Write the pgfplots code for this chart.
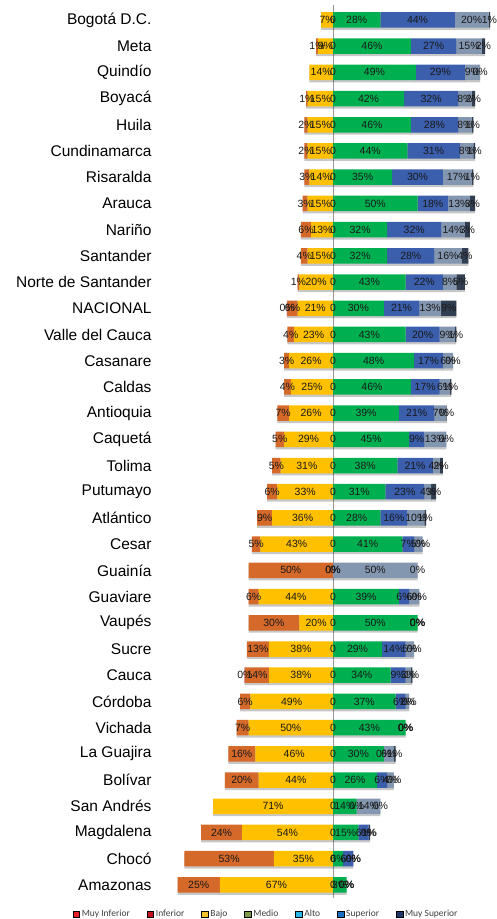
\documentclass[border=0pt]{standalone}
\usepackage{pgfplots}
\pgfplotsset{compat=1.18}
\usepackage{pgfplotstable}
\usepackage{fontspec}
\setmainfont{Liberation Sans}
\newfontfamily\carlito{Carlito}
\usetikzlibrary{shadows}

% bar colours
\definecolor{cMI}{HTML}{C00000}
\definecolor{cInf}{HTML}{D5692A}
\definecolor{cBajo}{HTML}{FFC000}
\definecolor{cMed}{HTML}{00B050}
\definecolor{cAlto}{HTML}{3B5EAD}
\definecolor{cSup}{HTML}{8497B0}
\definecolor{cMSup}{HTML}{323E52}
% legend colours
\definecolor{lMI}{HTML}{E8202A}
\definecolor{lInf}{HTML}{C0131E}
\definecolor{lBajo}{HTML}{F2C12E}
\definecolor{lMed}{HTML}{7F9A48}
\definecolor{lAlto}{HTML}{2AB6E6}
\definecolor{lSup}{HTML}{1A6FC4}
\definecolor{lMSup}{HTML}{1F3A68}

% idx, name, muy inferior, inferior, bajo, medio, alto, superior, muy superior (%)
\pgfplotstableread{
idx name minf inf bajo med alto sup msup
0  {Bogotá D.C.}        0   0  7  28 44 20 1
1  {Meta}               0   1  9  46 27 15 2
2  {Quindío}            0   0  14 49 29 9  0
3  {Boyacá}             0   1  15 42 32 8  2
4  {Huila}              0   2  15 46 28 8  1
5  {Cundinamarca}       0   2  15 44 31 8  1
6  {Risaralda}          0   3  14 35 30 17 1
7  {Arauca}             0   3  15 50 18 13 3
8  {Nariño}             0   6  13 32 32 14 3
9  {Santander}          0   4  15 32 28 16 4
10 {Norte de Santander} 0   1  20 43 22 8  5
11 {NACIONAL}           0.4 6  21 30 21 13 9
12 {Valle del Cauca}    0   4  23 43 20 9  1
13 {Casanare}           0   3  26 48 17 6  0
14 {Caldas}             0   4  25 46 17 6  1
15 {Antioquia}          0   7  26 39 21 7  0.4
16 {Caquetá}            0   5  29 45 9  13 0
17 {Tolima}             0   5  31 38 21 4  2
18 {Putumayo}           0   6  33 31 23 4  3
19 {Atlántico}          0   9  36 28 16 10 1
20 {Cesar}              0   5  43 41 7  5  0
21 {Guainía}            0   50 0  0  0  50 0
22 {Guaviare}           0   6  44 39 6  6  0
23 {Vaupés}             0   30 20 50 0  0  0
24 {Sucre}              0   13 38 29 14 5  0
25 {Cauca}              0.4 14 38 34 9  3  1
26 {Córdoba}            0   6  49 37 6  2  0
27 {Vichada}            0   7  50 43 0  0  0
28 {La Guajira}         0   16 46 30 0  6  1
29 {Bolívar}            0   20 44 26 6  4  0
30 {San Andrés}         0   0  71 14 0  14 0
31 {Magdalena}          0   24 54 15 6  0  1
32 {Chocó}              0   53 35 6  6  0  0
33 {Amazonas}           0   25 67 8  0  0  0
}\data

% where each segment's label sits (middle of the segment)
\pgfplotstablecreatecol[create col/expr={\thisrow{med}/2}]{pmed}{\data}
\pgfplotstablecreatecol[create col/expr={\thisrow{med}+\thisrow{alto}/2}]{palto}{\data}
\pgfplotstablecreatecol[create col/expr={\thisrow{med}+\thisrow{alto}+\thisrow{sup}/2}]{psup}{\data}
\pgfplotstablecreatecol[create col/expr={\thisrow{med}+\thisrow{alto}+\thisrow{sup}+\thisrow{msup}/2}]{pmsup}{\data}
\pgfplotstablecreatecol[create col/expr={-\thisrow{bajo}/2}]{pbajo}{\data}
\pgfplotstablecreatecol[create col/expr={-\thisrow{bajo}-\thisrow{inf}/2}]{pinf}{\data}
\pgfplotstablecreatecol[create col/expr={-\thisrow{bajo}-\thisrow{inf}-\thisrow{minf}/2}]{pminf}{\data}

\pgfplotsset{
  base/.style={at={(160pt,21pt)}, anchor=south west,
    scale only axis, width=337pt, height=893pt,
    xmin=-102.4, xmax=97, ymin=-0.57, ymax=33.5, y dir=reverse,
    clip=false, axis line style={draw=none}, major tick length=0pt,
    xtick=\empty, ytick=\empty},
  seg/.style={fill=#1, draw=none, forget plot,
    drop shadow={shadow xshift=0pt, shadow yshift=-2.2pt, opacity=0.22, fill=black}},
  lab/.style={only marks, mark=none, forget plot, point meta=explicit,
    nodes near coords={\pgfmathprintnumber[fixed,precision=0,assume math mode=true]{\pgfplotspointmeta}\%}},
  labnz/.style={only marks, mark=none, forget plot, point meta=explicit,
    nodes near coords={\pgfmathfloatifflags{\pgfplotspointmeta}{0}{}{\pgfmathprintnumber[fixed,precision=0,assume math mode=true]{\pgfplotspointmeta}\%}}},
}

\begin{document}
\begin{tikzpicture}
% left side: bajo, inferior, muy inferior, from 0 to the left
\begin{axis}[base,
    xbar stacked, bar width=15.5pt,
    ytick={0,...,33},
    yticklabels from table={\data}{name},
    yticklabel style={font=\fontsize{15.5}{18}\selectfont, xshift=-5pt},
    legend image code/.code={\fill[#1] (0pt,-3.3pt) rectangle (6.6pt,3.3pt);},
    legend columns=7,
    legend style={draw=none, fill=none, at={(0.315,0)}, anchor=north, yshift=-8pt,
      font=\carlito\fontsize{9.5}{11}\selectfont, text=black!75,
      /tikz/every even column/.append style={column sep=15pt}},
  ]
  \addlegendimage{fill=lMI}\addlegendentry{Muy Inferior}
  \addlegendimage{fill=lInf}\addlegendentry{Inferior}
  \addlegendimage{fill=lBajo}\addlegendentry{Bajo}
  \addlegendimage{fill=lMed}\addlegendentry{Medio}
  \addlegendimage{fill=lAlto}\addlegendentry{Alto}
  \addlegendimage{fill=lSup}\addlegendentry{Superior}
  \addlegendimage{fill=lMSup}\addlegendentry{Muy Superior}
  \addplot[seg=cBajo] table[x expr={-\thisrow{bajo}}, y=idx] {\data};
  \addplot[seg=cInf]  table[x expr={-\thisrow{inf}},  y=idx] {\data};
  \addplot[seg=cMI]   table[x expr={-\thisrow{minf}}, y=idx] {\data};
\end{axis}

% right side: medio, alto, superior, muy superior, from 0 to the right
\begin{axis}[base, xbar stacked, bar width=15.5pt]
  \addplot[seg=cMed]  table[x=med,  y=idx] {\data};
  \addplot[seg=cAlto] table[x=alto, y=idx] {\data};
  \addplot[seg=cSup]  table[x=sup,  y=idx] {\data};
  \addplot[seg=cMSup] table[x=msup, y=idx] {\data};
  \draw[black!40, line width=0.8pt] (axis cs:0,-0.57) -- (axis cs:0,33.5);
\end{axis}

% value labels
\begin{axis}[base,
    nodes near coords style={anchor=center, inner sep=0pt,
      font=\fontsize{10.5}{12}\selectfont, text=black!90}]
  \addplot[lab]   table[x=pmed,  y=idx, meta=med]  {\data};
  \addplot[lab]   table[x=palto, y=idx, meta=alto] {\data};
  \addplot[lab]   table[x=psup,  y=idx, meta=sup]  {\data};
  \addplot[lab]   table[x=pmsup, y=idx, meta=msup] {\data};
  \addplot[labnz] table[x=pbajo, y=idx, meta=bajo] {\data};
  \addplot[labnz] table[x=pinf,  y=idx, meta=inf]  {\data};
  \addplot[labnz] table[x=pminf, y=idx, meta=minf] {\data};
  \addplot[only marks, mark=none, forget plot, nodes near coords={0}]
    table[x expr=0, y=idx] {\data};
\end{axis}
\pgfresetboundingbox
\path[use as bounding box] (0,0) rectangle (497pt,919pt);
\end{tikzpicture}
\end{document}
